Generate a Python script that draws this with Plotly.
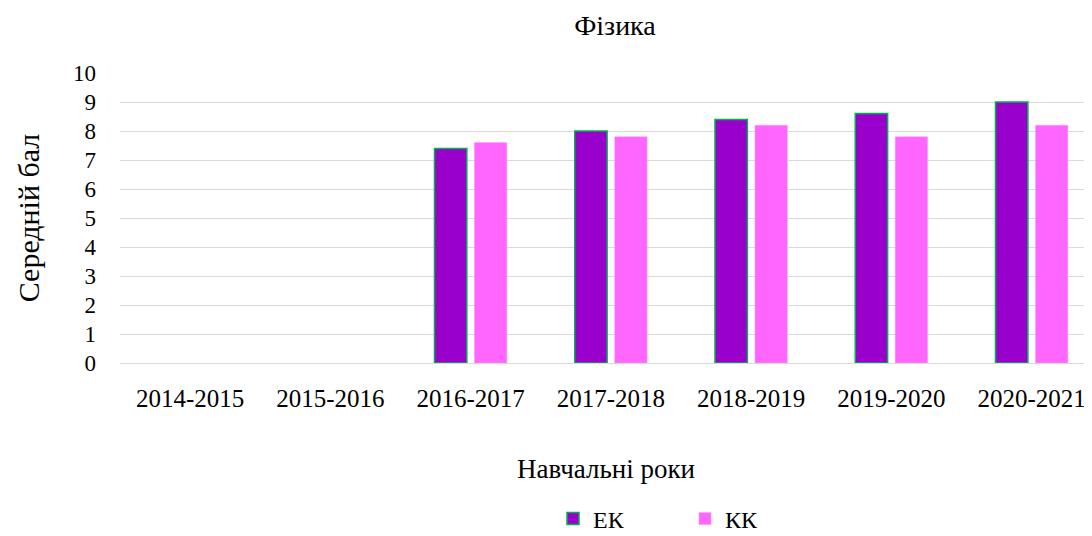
import plotly.graph_objects as go

categories = ["2014-2015", "2015-2016", "2016-2017", "2017-2018", "2018-2019", "2019-2020", "2020-2021"]
ek_values = [None, None, 7.4, 8.0, 8.4, 8.6, 9.0]
kk_values = [None, None, 7.6, 7.8, 8.2, 7.8, 8.2]
y_ticks = [0, 1, 2, 3, 4, 5, 6, 7, 8, 9, 10]

FONT = "Liberation Serif, Times New Roman, serif"

# page body has an 8px margin; compensate so the figure lands on the window
W, H = 1084, 528
OFF = 8

fig = go.Figure()
fig.add_trace(go.Bar(
    name="ЕК", x=categories, y=ek_values,
    marker=dict(color="#9900CC", line=dict(color="#00B050", width=1.5)),
))
fig.add_trace(go.Bar(
    name="КК", x=categories, y=kk_values,
    marker=dict(color="#FF66FF", line=dict(color="#FF99FF", width=0.5)),
))

plot_left, plot_right, plot_top, plot_bottom = 120, 1092, 73, 363
fig.update_layout(
    width=W, height=H,
    paper_bgcolor="white", plot_bgcolor="white",
    margin=dict(l=plot_left - OFF, r=W + OFF - plot_right, t=plot_top - OFF,
                b=H + OFF - plot_bottom, autoexpand=False),
    barmode="group", bargap=0.43, bargroupgap=0.19,
    font=dict(family=FONT, size=25, color="#000000"),
    title=dict(text="Фізика", x=(560 - OFF) / W, xanchor="center", xref="paper",
               y=1 - (25 - OFF) / H, yanchor="middle", yref="container",
               font=dict(family=FONT, size=28, color="#000000")),
    showlegend=True,
    legend=dict(orientation="h", x=(553 - plot_left) / (plot_right - plot_left), xanchor="left",
                y=-(519 - plot_bottom) / (plot_bottom - plot_top), yanchor="middle",
                entrywidth=87, entrywidthmode="pixels",
                font=dict(family=FONT, size=24, color="#000000"),
                itemclick=False),
)
fig.update_xaxes(
    type="category", categoryorder="array", categoryarray=categories,
    range=[-0.5, 6.43],
    showline=True, linecolor="#D9D9D9", linewidth=1,
    showgrid=False, ticks="", ticklabelstandoff=13,
    tickfont=dict(family=FONT, size=25),
    title=dict(text="Навчальні роки", standoff=48,
               font=dict(family=FONT, size=27)),
)
fig.update_yaxes(
    range=[0, 10], tickvals=y_ticks,
    showgrid=True, gridcolor="#D9D9D9", gridwidth=1,
    zeroline=False, showline=False, ticks="", ticklabelstandoff=23,
    tickfont=dict(family=FONT, size=23),
    title=dict(text="Середній бал", standoff=24,
               font=dict(family=FONT, size=30)),
)

fig.write_html("out.html")
